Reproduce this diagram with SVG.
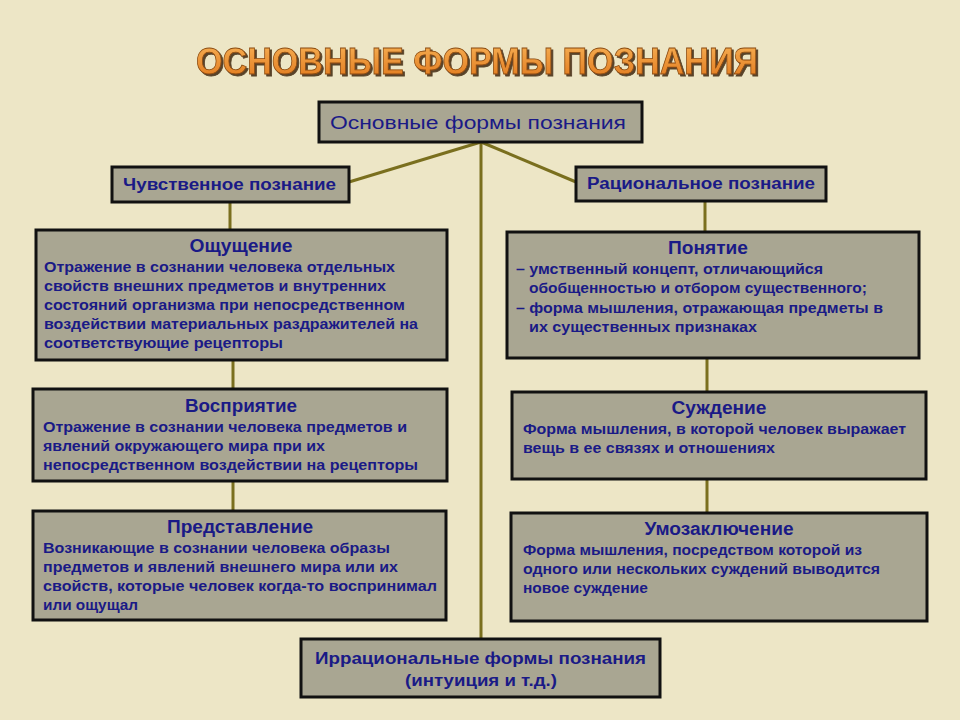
<svg xmlns="http://www.w3.org/2000/svg" width="960" height="720" viewBox="0 0 960 720">
<style>
.box{fill:#a9a692;stroke:#111;stroke-width:3}
.con{stroke:#7a6f1e;stroke-width:3;fill:none}
.t{font-family:"Liberation Sans",Arial,sans-serif;fill:#1a1a86}
.hd{font-size:18px;font-weight:bold;text-anchor:middle}
.bd{font-size:15px;font-weight:bold}
.lv{font-size:16px;font-weight:bold;text-anchor:middle}
.title{font-family:"Liberation Sans",Arial,sans-serif;font-size:36px;font-weight:bold}
</style>
<defs>
<linearGradient id="tg" x1="0" y1="0" x2="0" y2="1">
<stop offset="0" stop-color="#f7b256"/>
<stop offset="1" stop-color="#e0761a"/>
</linearGradient>
<filter id="sh" x="-5%" y="-30%" width="110%" height="160%">
<feDropShadow dx="2" dy="2" stdDeviation="0.6" flood-color="#4a3014" flood-opacity="0.9"/>
</filter>
</defs>
<rect x="0" y="0" width="960" height="720" fill="#ede6c6"/>
<g id="title">
<text class="title" x="196" y="74" fill="url(#tg)" stroke="#8a4a10" stroke-width="0.8" filter="url(#sh)" textLength="562" lengthAdjust="spacingAndGlyphs">ОСНОВНЫЕ ФОРМЫ ПОЗНАНИЯ</text>
</g>
<g id="connectors">
<line class="con" x1="481" y1="142" x2="349" y2="182"/>
<line class="con" x1="481" y1="142" x2="576" y2="182"/>
<line class="con" x1="481" y1="142" x2="481" y2="639"/>
<line class="con" x1="230" y1="202" x2="230" y2="230"/>
<line class="con" x1="233" y1="360" x2="233" y2="389"/>
<line class="con" x1="233" y1="481" x2="233" y2="511"/>
<line class="con" x1="705" y1="201" x2="705" y2="232"/>
<line class="con" x1="707" y1="358" x2="707" y2="392"/>
<line class="con" x1="707" y1="479" x2="707" y2="513"/>
</g>
<g id="root">
<rect class="box" x="319" y="102" width="323" height="40"/>
<text class="t" x="330" y="129" style="font-size:18px" textLength="296" lengthAdjust="spacingAndGlyphs">Основные формы познания</text>
</g>
<g id="sensory">
<rect class="box" x="112" y="167" width="237" height="35"/>
<text class="t" x="123" y="190" style="font-size:16px;font-weight:bold" textLength="213" lengthAdjust="spacingAndGlyphs">Чувственное познание</text>
</g>
<g id="rational">
<rect class="box" x="576" y="167" width="250" height="34"/>
<text class="t" x="587" y="189" style="font-size:16px;font-weight:bold" textLength="228" lengthAdjust="spacingAndGlyphs">Рациональное познание</text>
</g>
<g id="sensation">
<rect class="box" x="36" y="230" width="411" height="130"/>
<text class="t hd" x="241" y="252" textLength="103" lengthAdjust="spacingAndGlyphs">Ощущение</text>
<text class="t bd" x="44" y="272" textLength="351" lengthAdjust="spacingAndGlyphs">Отражение в сознании человека отдельных</text>
<text class="t bd" x="44" y="291" textLength="342" lengthAdjust="spacingAndGlyphs">свойств внешних предметов и внутренних</text>
<text class="t bd" x="44" y="310" textLength="361" lengthAdjust="spacingAndGlyphs">состояний организма при непосредственном</text>
<text class="t bd" x="44" y="329" textLength="374" lengthAdjust="spacingAndGlyphs">воздействии материальных раздражителей на</text>
<text class="t bd" x="44" y="348" textLength="239" lengthAdjust="spacingAndGlyphs">соответствующие рецепторы</text>
</g>
<g id="perception">
<rect class="box" x="33" y="389" width="414" height="92"/>
<text class="t hd" x="241" y="412" textLength="112" lengthAdjust="spacingAndGlyphs">Восприятие</text>
<text class="t bd" x="43" y="432" textLength="364" lengthAdjust="spacingAndGlyphs">Отражение в сознании человека предметов и</text>
<text class="t bd" x="43" y="451" textLength="282" lengthAdjust="spacingAndGlyphs">явлений окружающего мира при их</text>
<text class="t bd" x="43" y="470" textLength="375" lengthAdjust="spacingAndGlyphs">непосредственном воздействии на рецепторы</text>
</g>
<g id="representation">
<rect class="box" x="33" y="511" width="413" height="109"/>
<text class="t hd" x="240" y="533" textLength="146" lengthAdjust="spacingAndGlyphs">Представление</text>
<text class="t bd" x="43" y="553" textLength="347" lengthAdjust="spacingAndGlyphs">Возникающие в сознании человека образы</text>
<text class="t bd" x="43" y="572" textLength="355" lengthAdjust="spacingAndGlyphs">предметов и явлений внешнего мира или их</text>
<text class="t bd" x="43" y="591" textLength="394" lengthAdjust="spacingAndGlyphs">свойств, которые человек когда-то воспринимал</text>
<text class="t bd" x="43" y="610" textLength="95" lengthAdjust="spacingAndGlyphs">или ощущал</text>
</g>
<g id="concept">
<rect class="box" x="507" y="232" width="412" height="126"/>
<text class="t hd" x="708" y="254" textLength="80" lengthAdjust="spacingAndGlyphs">Понятие</text>
<text class="t bd" x="516" y="274" textLength="307" lengthAdjust="spacingAndGlyphs">– умственный концепт, отличающийся</text>
<text class="t bd" x="529" y="293" textLength="338" lengthAdjust="spacingAndGlyphs">обобщенностью и отбором существенного;</text>
<text class="t bd" x="516" y="313" textLength="367" lengthAdjust="spacingAndGlyphs">– форма мышления, отражающая предметы в</text>
<text class="t bd" x="529" y="332" textLength="228" lengthAdjust="spacingAndGlyphs">их существенных признаках</text>
</g>
<g id="judgment">
<rect class="box" x="512" y="392" width="414" height="87"/>
<text class="t hd" x="719" y="414" textLength="95" lengthAdjust="spacingAndGlyphs">Суждение</text>
<text class="t bd" x="523" y="434" textLength="383" lengthAdjust="spacingAndGlyphs">Форма мышления, в которой человек выражает</text>
<text class="t bd" x="523" y="453" textLength="252" lengthAdjust="spacingAndGlyphs">вещь в ее связях и отношениях</text>
</g>
<g id="inference">
<rect class="box" x="511" y="513" width="416" height="108"/>
<text class="t hd" x="719" y="535" textLength="149" lengthAdjust="spacingAndGlyphs">Умозаключение</text>
<text class="t bd" x="523" y="555" textLength="339" lengthAdjust="spacingAndGlyphs">Форма мышления, посредством которой из</text>
<text class="t bd" x="523" y="574" textLength="357" lengthAdjust="spacingAndGlyphs">одного или нескольких суждений выводится</text>
<text class="t bd" x="523" y="593" textLength="125" lengthAdjust="spacingAndGlyphs">новое суждение</text>
</g>
<g id="irrational">
<rect class="box" x="301" y="639" width="359" height="58"/>
<text class="t" x="315" y="664" style="font-size:17px;font-weight:bold" textLength="331" lengthAdjust="spacingAndGlyphs">Иррациональные формы познания</text>
<text class="t" x="405" y="686" style="font-size:17px;font-weight:bold" textLength="152" lengthAdjust="spacingAndGlyphs">(интуиция и т.д.)</text>
</g>
</svg>
